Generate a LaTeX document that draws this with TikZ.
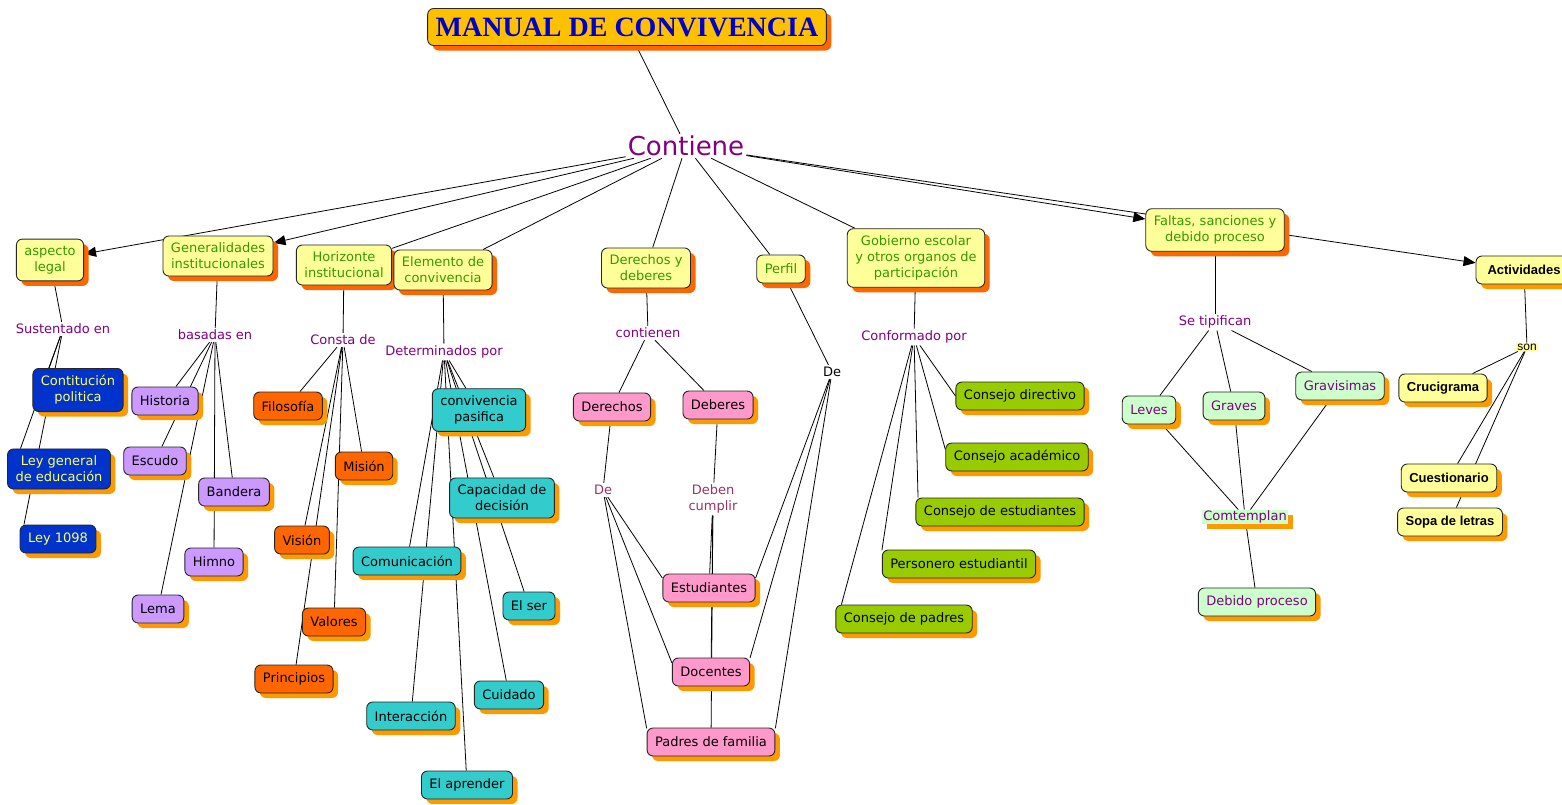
\documentclass[tikz,border=0pt]{standalone}
\usepackage{fontspec}
\setmainfont{DejaVu Sans}
\newfontfamily\titlefont{Liberation Serif}
\newfontfamily\arialfont{Liberation Sans}
\usetikzlibrary{positioning, arrows.meta, shadows, backgrounds}

\definecolor{cmyellow}{HTML}{FFFF99}
\definecolor{cmgold}{HTML}{FFC000}
\definecolor{cmred}{HTML}{FF6600}
\definecolor{cmorange}{HTML}{FF9900}
\definecolor{cmgreentext}{HTML}{339900}
\definecolor{cmpurple}{HTML}{800080}
\definecolor{cmplum}{HTML}{993366}
\definecolor{cmnavy}{HTML}{0000CC}
\definecolor{cmblue}{HTML}{0033CC}
\definecolor{cmlemon}{HTML}{FFFF66}
\definecolor{cmlilac}{HTML}{CC99FF}
\definecolor{cmteal}{HTML}{33CCCC}
\definecolor{cmpink}{HTML}{FF99CC}
\definecolor{cmlime}{HTML}{99CC00}
\definecolor{cmmint}{HTML}{CCFFCC}

\begin{document}
\begin{tikzpicture}[on grid,
    redshadow/.style={drop shadow={shadow xshift=5pt, shadow yshift=-5pt, fill=cmred, opacity=1}},
    orangeshadow/.style={drop shadow={shadow xshift=5pt, shadow yshift=-5pt, fill=cmorange, opacity=1}},
    concept/.style={draw=black!85, line width=0.9pt, rounded corners=6pt, align=center,
        inner xsep=8pt, inner ysep=7pt, minimum height=28pt, text=black,
        font=\fontsize{13}{16}\selectfont},
    titlebox/.style={concept, fill=cmgold, text=cmnavy, redshadow, minimum height=37pt,
        font=\titlefont\bfseries\fontsize{28}{30}\selectfont},
    topic/.style={concept, fill=cmyellow, text=cmgreentext, redshadow},
    lawbox/.style={concept, fill=cmblue, text=cmlemon, orangeshadow},
    symbolbox/.style={concept, fill=cmlilac, orangeshadow},
    goalbox/.style={concept, fill=cmred, orangeshadow},
    valuebox/.style={concept, fill=cmteal, orangeshadow},
    actorbox/.style={concept, fill=cmpink, orangeshadow},
    councilbox/.style={concept, fill=cmlime, orangeshadow},
    faultbox/.style={concept, fill=cmmint, text=cmpurple, orangeshadow},
    taskbox/.style={concept, fill=cmyellow, orangeshadow,
        font=\arialfont\bfseries\fontsize{13}{16}\selectfont},
    link/.style={text=cmpurple, inner sep=2pt, align=center, font=\fontsize{13}{16}\selectfont},
    hub/.style={link, font=\fontsize{26}{30}\selectfont},
    arrowto/.style={-{Triangle[length=12pt, width=10pt]}},
    every edge/.style={draw, line width=0.8pt}]

    \useasboundingbox (0,0) rectangle (1562pt,-804pt);
    \begin{scope}[on background layer]
        \fill[white] (0,0) rectangle (1562pt,-804pt);
    \end{scope}

    \node [titlebox] (title) at (627pt,-27pt) {MANUAL DE CONVIVENCIA};
    \node [hub, below right=119pt and 59pt of title] (cont) {Contiene};

    \node [topic, below left=114pt and 636pt of cont] (legal) {aspecto\\legal};
    \node [topic, below left=110pt and 468pt of cont] (gen) {Generalidades\\institucionales};
    \node [topic, below left=119pt and 342pt of cont] (hor) {Horizonte\\institucional};
    \node [topic, below left=124pt and 243pt of cont] (elem) {Elemento de\\convivencia};
    \node [topic, below left=122pt and 40pt of cont] (dyd) {Derechos y\\deberes};
    \node [topic, below right=123pt and 95pt of cont] (perfil) {Perfil};
    \node [topic, below right=112pt and 230pt of cont] (gob) {Gobierno escolar\\y otros organos de\\participación};
    \node [topic, below right=84pt and 529pt of cont] (faltas) {Faltas, sanciones y\\debido proceso};
    \node [taskbox, minimum width=96pt, below right=40pt and 309pt of faltas] (activ) {Actividades};

    % aspecto legal
    \node [link, below right=69pt and 13pt of legal] (sust) {Sustentado en};
    \node [lawbox, below right=61pt and 15pt of sust] (contit) {Contitución\\politica};
    \node [lawbox, below left=79pt and 19pt of contit] (leygen) {Ley general\\de educación};
    \node [lawbox, below left=70pt and 1pt of leygen] (ley) {Ley 1098};

    % generalidades
    \node [link, below left=79pt and 3pt of gen] (bas) {basadas en};
    \node [symbolbox, below left=66pt and 50pt of bas] (hist) {Historia};
    \node [symbolbox, below left=60pt and 10pt of hist] (escudo) {Escudo};
    \node [symbolbox, below right=157pt and 19pt of bas] (bandera) {Bandera};
    \node [symbolbox, below left=70pt and 20pt of bandera] (himno) {Himno};
    \node [symbolbox, below right=148pt and 3pt of escudo] (lema) {Lema};

    % horizonte
    \node [link, below left=75pt and 1pt of hor] (consta) {Consta de};
    \node [goalbox, below left=66pt and 55pt of consta] (filo) {Filosofía};
    \node [goalbox, below right=126pt and 21pt of consta] (mision) {Misión};
    \node [goalbox, below left=200pt and 41pt of consta] (vision) {Visión};
    \node [goalbox, below right=82pt and 32pt of vision] (valores) {Valores};
    \node [goalbox, below left=139pt and 8pt of vision] (princ) {Principios};

    % elemento de convivencia
    \node [link, below right=82pt and 1pt of elem] (determ) {Determinados por};
    \node [valuebox, below right=58pt and 35pt of determ] (convp) {convivencia\\pasifica};
    \node [valuebox, below right=88pt and 23pt of convp] (capac) {Capacidad de\\decisión};
    \node [valuebox, below left=151pt and 72pt of convp] (comun) {Comunicación};
    \node [valuebox, below right=108pt and 27pt of capac] (elser) {El ser};
    \node [valuebox, below left=89pt and 20pt of elser] (cuidado) {Cuidado};
    \node [valuebox, below right=155pt and 4pt of comun] (interac) {Interacción};
    \node [valuebox, below right=69pt and 56pt of interac] (aprender) {El aprender};

    % derechos y deberes, perfil
    \node [link, below right=65pt and 2pt of dyd] (contienen) {contienen};
    \node [actorbox, below left=74pt and 36pt of contienen] (der) {Derechos};
    \node [actorbox, below right=72pt and 70pt of contienen] (deb) {Deberes};
    \node [link, text=cmplum, below left=83pt and 9pt of der] (dea) {De};
    \node [link, text=cmplum, below left=94pt and 5pt of deb] (deben) {Deben\\cumplir};
    \node [actorbox, below left=89pt and 4pt of deben] (estud) {Estudiantes};
    \node [actorbox, below right=84pt and 2pt of estud] (docen) {Docentes};
    \node [actorbox, below=70pt of docen] (padres) {Padres de familia};
    \node [link, text=black, below right=103pt and 51pt of perfil] (deb2) {De};

    % gobierno escolar
    \node [link, below left=79pt and 2pt of gob] (conf) {Conformado por};
    \node [councilbox, below right=59pt and 106pt of conf] (cdir) {Consejo directivo};
    \node [councilbox, below left=61pt and 3pt of cdir] (cacad) {Consejo académico};
    \node [councilbox, below left=55pt and 17pt of cacad] (cest) {Consejo de estudiantes};
    \node [councilbox, below left=52pt and 41pt of cest] (pers) {Personero estudiantil};
    \node [councilbox, below left=55pt and 55pt of pers] (cpad) {Consejo de padres};

    % faltas
    \node [link, below=92pt of faltas] (tipif) {Se tipifican};
    \node [faultbox, below left=88pt and 66pt of tipif] (leves) {Leves};
    \node [faultbox, below right=84pt and 19pt of tipif] (graves) {Graves};
    \node [faultbox, below right=64pt and 125pt of tipif] (gravis) {Gravisimas};
    \node [link, fill=cmmint, inner sep=1pt, orangeshadow, below right=111pt and 11pt of graves] (comt) {Comtemplan};
    \node [faultbox, below right=85pt and 12pt of comt] (debido) {Debido proceso};

    % actividades
    \node [link, text=black, fill=cmyellow, inner sep=1pt, font=\arialfont\fontsize{12}{14}\selectfont,
        below right=77pt and 3pt of activ] (son) {son};
    \node [taskbox, below left=41pt and 84pt of son] (cruci) {Crucigrama};
    \node [taskbox, below right=90pt and 6pt of cruci] (cuest) {Cuestionario};
    \node [taskbox, below right=44pt and 1pt of cuest] (sopa) {Sopa de letras};

    \begin{scope}[on background layer]
        \draw (title) edge (cont);
        \draw (cont) edge[arrowto] (legal) edge[arrowto] (gen) edge (hor) edge (elem)
            edge (dyd) edge (perfil) edge (gob) edge[arrowto] (faltas) edge[arrowto] (activ);

        \draw (legal) edge (sust);
        \draw (sust) edge (contit.143) edge (leygen.152) edge (ley.157);

        \draw (gen) edge (bas);
        \draw (bas) edge (hist) edge (escudo) edge (bandera) edge (himno) edge (lema);

        \draw (hor) edge (consta);
        \draw (consta) edge (filo) edge (mision) edge (vision) edge (valores) edge (princ);

        \draw (elem) edge (determ);
        \draw (determ) edge (convp) edge (capac) edge (comun) edge (elser)
            edge (cuidado) edge (interac) edge (aprender);

        \draw (dyd) edge (contienen);
        \draw (contienen) edge (der) edge (deb);
        \draw (der) edge (dea);
        \draw (deb) edge (deben);
        \draw (dea) edge (estud.168) edge (docen.167) edge (padres.168);
        \draw (deben) edge (estud) edge (docen) edge (padres);
        \draw (perfil) edge (deb2);
        \draw (deb2) edge (estud.12) edge (docen.20) edge (padres.12);

        \draw (gob) edge (conf);
        \draw (conf) edge (cdir.west) edge (cacad.174) edge (cest.170) edge (pers.170) edge (cpad.167);

        \draw (faltas) edge (tipif);
        \draw (tipif) edge (leves) edge (graves) edge (gravis);
        \draw (comt) edge (leves) edge (graves) edge (gravis) edge (debido);

        \draw (activ) edge (son);
        \draw (son) edge (cruci) edge (cuest) edge (sopa);
    \end{scope}
\end{tikzpicture}
\end{document}
